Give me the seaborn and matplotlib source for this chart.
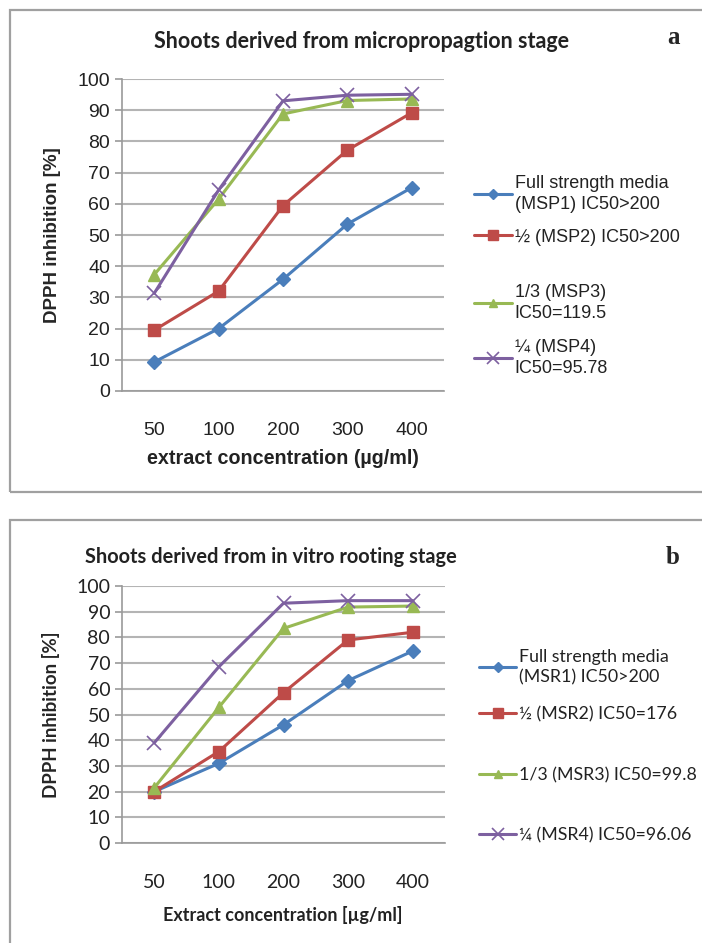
import numpy as np
import pandas as pd
import seaborn as sns
import matplotlib.pyplot as plt
from matplotlib.patches import Rectangle
from matplotlib.ticker import FixedLocator, NullFormatter

# ======== data ========
conc = ['50', '100', '200', '300', '400']

# panel a : micropropagation stage
msp1 = [9.3, 20.0, 35.8, 53.5, 65.2]
msp2 = [19.5, 32.0, 59.4, 77.2, 89.2]
msp3 = [37.3, 61.5, 88.8, 93.1, 93.6]
msp4 = [31.3, 64.4, 93.0, 94.8, 95.1]
labels_a = ['Full strength media\n(MSP1) IC50>200', '½ (MSP2) IC50>200',
            '1/3 (MSP3)\nIC50=119.5', '¼ (MSP4)\nIC50=95.78']

# panel b : in vitro rooting stage
msr1 = [20.0, 31.0, 46.0, 63.2, 74.7]
msr2 = [20.0, 35.6, 58.5, 79.0, 82.0]
msr3 = [21.5, 52.8, 83.5, 91.8, 92.2]
msr4 = [39.0, 68.6, 93.3, 94.3, 94.3]
labels_b = ['Full strength media\n(MSR1) IC50>200', '½ (MSR2) IC50=176',
            '1/3 (MSR3) IC50=99.8', '¼ (MSR4) IC50=96.06']

colors = ['#4A7EBB', '#BE4B48', '#98B954', '#7D60A0']
markers = ['D', 's', '^', 'x']
msizes = [7, 9, 8, 10]

sns.set_style("white")
arial = ['Liberation Sans', 'DejaVu Sans']
cal = ['Lato', 'DejaVu Sans']
plt.rcParams['font.family'] = arial

W, H = 702, 943
fig = plt.figure(figsize=(W / 100, H / 100), dpi=100)


def fx(px):
    return px / W


def fy(py):
    return 1 - py / H


def panel(series, labels, box, axbox, title, title_x, title_y, title_size,
          tag, tag_y, xlabel, xlabel_y, xlabel_size, font, legx, legy, legsize):
    # grey frame of the panel
    x0, y0, x1, y1 = box
    fig.add_artist(Rectangle((fx(x0), fy(y1)), fx(x1 - x0), (y1 - y0) / H,
                             transform=fig.transFigure, fill=False,
                             edgecolor='#A0A0A0', lw=1.6))
    l, t, r, b = axbox
    ax = fig.add_axes([fx(l), fy(b), fx(r - l), (b - t) / H])
    df = pd.DataFrame({'conc': conc * 4,
                       'val': np.concatenate(series),
                       'grp': np.repeat(labels, len(conc))})
    handles = []
    for i, lab in enumerate(labels):
        sub = df[df['grp'] == lab]
        sns.lineplot(data=sub, x='conc', y='val', ax=ax, color=colors[i],
                     marker=markers[i], markersize=msizes[i], lw=2.2,
                     markeredgecolor=colors[i], markeredgewidth=1.0 if i < 3 else 1.2,
                     sort=False, legend=False)
        handles.append(ax.lines[-1])
    ax.set_xlim(-0.5, 4.5)
    ax.set_ylim(0, 100)
    ax.set_yticks(range(0, 101, 10))
    ax.grid(axis='y', color='#B4B4B4', lw=1.5)
    ax.set_axisbelow(True)
    for s in ['top', 'right']:
        ax.spines[s].set_visible(False)
    for s in ['left', 'bottom']:
        ax.spines[s].set_color('#9A9A9A')
        ax.spines[s].set_linewidth(1.2)
    # category ticks between the groups, labels in the middle
    ax.xaxis.set_major_locator(FixedLocator(np.arange(-0.5, 5, 1)))
    ax.xaxis.set_major_formatter(NullFormatter())
    ax.xaxis.set_minor_locator(FixedLocator(np.arange(5)))
    ax.set_xticklabels(conc, minor=True)
    ax.tick_params(axis='x', which='major', length=6, color='#9A9A9A', width=1.2)
    ax.tick_params(axis='x', which='minor', length=0, pad=22, labelsize=14,
                   labelcolor='#222222')
    ax.tick_params(axis='y', length=5, color='#9A9A9A', width=1.2, labelsize=14,
                   labelcolor='#222222', left=True)
    for tl in ax.get_xticklabels(minor=True) + ax.get_yticklabels():
        tl.set_family(font)
    ax.set_xlabel('')
    ax.set_ylabel('DPPH inhibition [%]', fontsize=13.5, fontweight='bold',
                  family=font, labelpad=12)
    fig.text(fx(title_x), fy(title_y), title, ha='center', va='center',
             fontsize=title_size, fontweight='bold', family=cal, color='#222222')
    fig.text(fx(673), fy(tag_y), tag, ha='center', va='center', fontsize=18,
             fontweight='bold', family=['Liberation Serif', 'DejaVu Serif'])
    fig.text(fx(283), fy(xlabel_y), xlabel, ha='center', va='center',
             fontsize=xlabel_size, fontweight='bold', family=font, color='#222222')
    # legend entries placed one by one (irregular spacing)
    for i, lab in enumerate(labels):
        leg = fig.legend([handles[i]], [lab], loc='center left',
                         bbox_to_anchor=(fx(legx), fy(legy[i])),
                         bbox_transform=fig.transFigure, frameon=False,
                         borderpad=0, borderaxespad=0,
                         handlelength=2.1, handletextpad=0.15,
                         prop={'family': font, 'size': legsize})
        for tx in leg.get_texts():
            tx.set_color('#222222')
            tx.set_linespacing(1.3)
        for ln in leg.get_lines():
            ln.set_markersize(msizes[i] * 0.8)
    return ax


panel([msp1, msp2, msp3, msp4], labels_a, (10, 10, 720, 492),
      (122, 79, 444, 391), 'Shoots derived from micropropagtion stage', 361, 42,
      15.5, 'a', 37, 'extract concentration (µg/ml)', 459, 14.2, arial,
      474, [194, 237, 303, 358], 13)

panel([msr1, msr2, msr3, msr4], labels_b, (10, 520, 720, 960),
      (122, 586, 445, 843), 'Shoots derived from in vitro rooting stage', 271, 557,
      14.4, 'b', 558, 'Extract concentration [µg/ml]', 915, 13, cal,
      479, [667, 714, 775, 835], 12.8)

fig.savefig('out.png', dpi=100, facecolor='white')
